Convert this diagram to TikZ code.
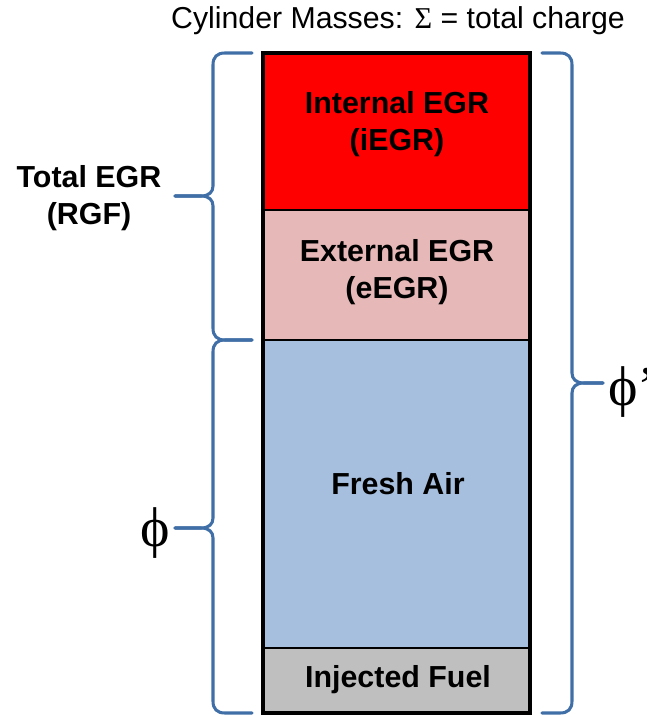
\documentclass[tikz,border=0pt]{standalone}
\usepackage{fontspec}
\setmainfont{Liberation Sans}
\newfontfamily\serifgr{Liberation Serif}
\definecolor{bracecol}{RGB}{64,110,166}
\definecolor{iegrcol}{RGB}{255,0,0}
\definecolor{eegrcol}{RGB}{230,185,184}
\definecolor{freshcol}{RGB}{167,191,222}
\definecolor{fuelcol}{RGB}{191,191,191}
% #1 end x, #2 spine x, #3 tip x, #4 top y, #5 tip y, #6 bottom y, #7 direction (+1 left brace, -1 right brace)
\newcommand\mybrace[7]{%
 \draw[bracestyle] (#1,#4) -- ({#2+12*#7},#4) .. controls ({#2+4*#7},#4) and (#2,{#4+4}) .. (#2,{#4+12})
   -- (#2,{#5-10}) .. controls (#2,{#5-4}) and ({#2-4*#7},#5) .. ({#2-12*#7},#5) -- (#3,#5);
 \draw[bracestyle] (#3,#5) -- ({#2-12*#7},#5) .. controls ({#2-4*#7},#5) and (#2,{#5+4}) .. (#2,{#5+10})
   -- (#2,{#6-12}) .. controls (#2,{#6-4}) and ({#2+4*#7},#6) .. ({#2+12*#7},#6) -- (#1,#6);
}
\begin{document}
\begin{tikzpicture}[x=0.75pt,y=-0.75pt,
 lbl/.style={font=\fontsize{22.8}{28}\selectfont\bfseries, align=center, inner sep=0pt},
 bracestyle/.style={draw=bracecol, line width=2.3pt, line join=round, line cap=round},
 sepline/.style={line width=2.2pt},
 philbl/.style={font=\fontsize{42}{42}\selectfont\serifgr, inner sep=0pt},
]
\useasboundingbox (0,0) rectangle (646,717);
% sections
\fill[iegrcol] (263,53) rectangle (530,210);
\fill[eegrcol] (263,210) rectangle (530,340);
\fill[freshcol] (263,340) rectangle (530,648);
\fill[fuelcol] (263,648) rectangle (530,713);
\draw[sepline] (263,210) -- (530,210);
\draw[sepline] (263,340) -- (530,340);
\draw[sepline] (263,648) -- (530,648);
\draw[line width=3pt] (263,53) rectangle (530,713);
% texts
\node[font=\fontsize{22.7}{26}\selectfont, inner sep=0pt] (title) at (398,21) {Cylinder Masses: {\serifgr Σ} = total charge};
\node[lbl] (iegr) at (397,124) {Internal EGR\\(iEGR)};
\node[lbl] (eegr) at (397,272) {External EGR\\(eEGR)};
\node[lbl] (fresh) at (398,484) {Fresh Air};
\node[lbl] (fuel) at (398,680) {Injected Fuel};
\node[lbl] (tegr) at (89,198) {Total EGR\\(RGF)};
% braces
\mybrace{252}{213}{175}{53}{196}{340}{1}
\mybrace{252}{213}{175}{340}{528}{713}{1}
\mybrace{542}{572}{603}{53}{383}{713}{-1}
\node[philbl, anchor=east] (phi) at (170,533) {ϕ};
\node[philbl, anchor=west] (phip) at (608,392) {ϕ’};
\end{tikzpicture}
\end{document}
